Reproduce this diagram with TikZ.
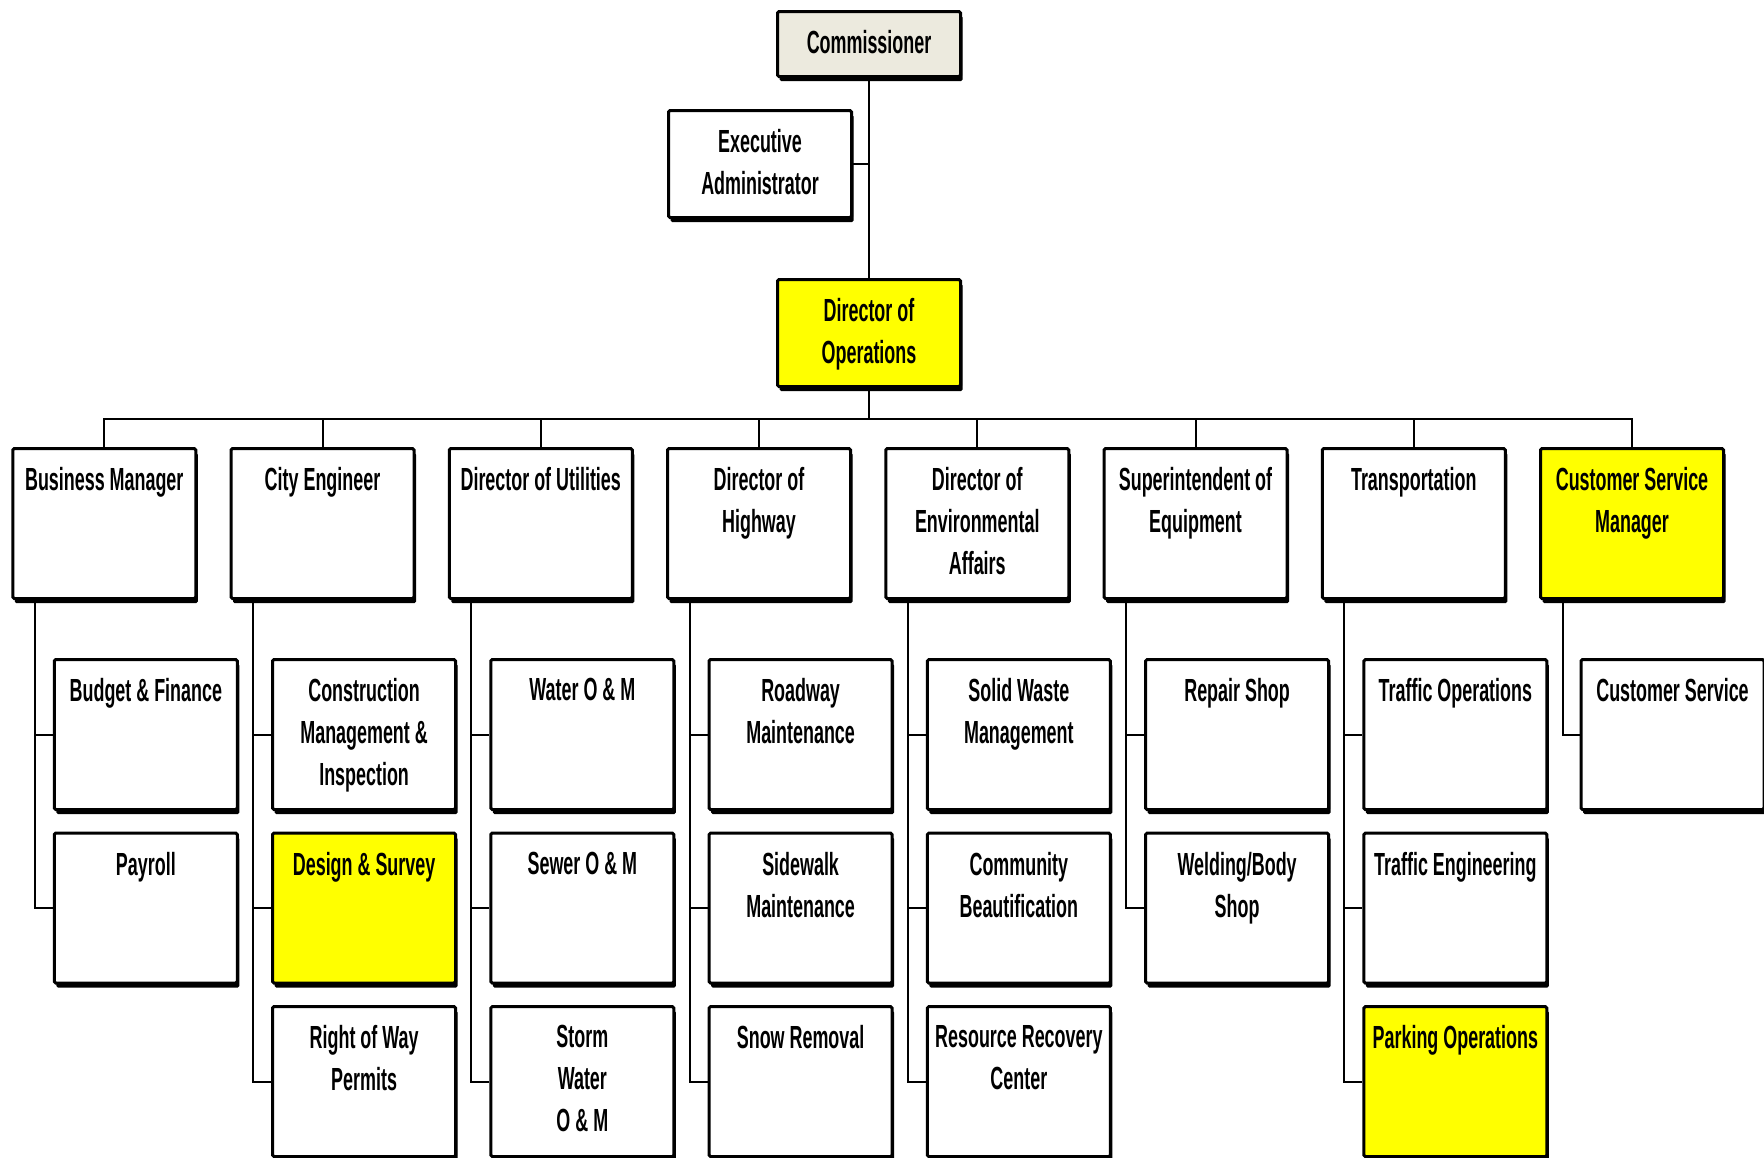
\documentclass[tikz,border=0pt]{standalone}
\usepackage{fontspec}
\setmainfont{Liberation Sans}[FakeStretch=0.56]
\usepackage{tikz}
\usetikzlibrary{shadows}
\definecolor{commfill}{RGB}{236,234,222}
\definecolor{hiyellow}{RGB}{255,255,0}
\newcommand{\card}[2]{\parbox[c][#1][t]{183pt}{\centering\vspace*{19pt}#2}}
\tikzset{
  orgbox/.style={draw, line width=3pt, fill=white, rounded corners=1.5pt, inner sep=0pt,
    font=\bfseries\fontsize{32}{42}\selectfont,
    drop shadow={shadow xshift=2pt, shadow yshift=-4.5pt, fill=black, opacity=1}},
  hilite/.style={orgbox, fill=hiyellow},
  link/.style={line width=2pt}
}

\begin{document}
\begin{tikzpicture}[x=1pt,y=-1pt]
			\useasboundingbox (0,0) rectangle (1764,1157);
			%%%%% TOP %%%%%
			\node[orgbox, fill=commfill] (comm) at (869, 44) {\card{65pt}{Commissioner}};
			\node[orgbox] (exec) at (760, 164) {\card{107pt}{Executive\\Administrator}};
			\node[hilite] (dirops) at (869, 333) {\card{107pt}{Director of\\Operations}};
			\coordinate (bus) at (869, 418.5);
			
			%%%%% DIVISIONS %%%%%
			\node[orgbox] (bizmgr) at (104.25, 523.5) {\card{150pt}{Business Manager}};
			\node[orgbox] (cityeng) at (322.5, 523.5) {\card{150pt}{City Engineer}};
			\node[orgbox] (utils) at (540.75, 523.5) {\card{150pt}{Director of Utilities}};
			\node[orgbox] (highway) at (759, 523.5) {\card{150pt}{Director of\\Highway}};
			\node[orgbox] (environ) at (977.25, 523.5) {\card{150pt}{Director of\\Environmental\\Affairs}};
			\node[orgbox] (equip) at (1195.5, 523.5) {\card{150pt}{Superintendent of\\Equipment}};
			\node[orgbox] (transp) at (1413.75, 523.5) {\card{150pt}{Transportation}};
			\node[hilite] (custmgr) at (1632, 523.5) {\card{150pt}{Customer Service\\Manager}};
			
			%%%%% UNITS %%%%%
			\node[orgbox] (budget) at (145.85, 734.5) {\card{150pt}{Budget \& Finance}};
			\node[orgbox] (payroll) at (145.85, 908) {\card{150pt}{Payroll}};
			
			\node[orgbox] (constr) at (364.1, 734.5) {\card{150pt}{Construction\\Management \&\\Inspection}};
			\node[hilite] (design) at (364.1, 908) {\card{150pt}{Design \& Survey}};
			\node[orgbox] (rightway) at (364.1, 1081.5) {\card{150pt}{Right of Way\\Permits}};
			
			\node[orgbox] (water) at (582.35, 734.5) {\card{150pt}{Water O \& M}};
			\node[orgbox] (sewer) at (582.35, 908) {\card{150pt}{Sewer O \& M}};
			\node[orgbox] (storm) at (582.35, 1081.5) {\card{150pt}{Storm\\Water\\O \& M}};
			
			\node[orgbox] (roadway) at (800.6, 734.5) {\card{150pt}{Roadway\\Maintenance}};
			\node[orgbox] (sidewalk) at (800.6, 908) {\card{150pt}{Sidewalk\\Maintenance}};
			\node[orgbox] (snow) at (800.6, 1081.5) {\card{150pt}{Snow Removal}};
			
			\node[orgbox] (solid) at (1018.85, 734.5) {\card{150pt}{Solid Waste\\Management}};
			\node[orgbox] (beautif) at (1018.85, 908) {\card{150pt}{Community\\Beautification}};
			\node[orgbox] (recovery) at (1018.85, 1081.5) {\card{150pt}{Resource Recovery\\Center}};
			
			\node[orgbox] (repair) at (1237.1, 734.5) {\card{150pt}{Repair Shop}};
			\node[orgbox] (welding) at (1237.1, 908) {\card{150pt}{Welding/Body\\Shop}};
			
			\node[orgbox] (trafops) at (1455.35, 734.5) {\card{150pt}{Traffic Operations}};
			\node[orgbox] (trafeng) at (1455.35, 908) {\card{150pt}{Traffic Engineering}};
			\node[hilite] (parking) at (1455.35, 1081.5) {\card{150pt}{Parking Operations}};
			
			\node[orgbox] (custsvc) at (1672.5, 734.5) {\card{150pt}{Customer Service}};
			
			%%%%% LINES %%%%%
			\draw[link] (comm.south) -- (dirops.north);
			\draw[link] (exec.east) -- (exec.east -| comm.south);
			\draw[link] (dirops.south) -- (bus);
			\draw[link] (bizmgr.north) |- (bus);
			\draw[link] (cityeng.north) |- (bus);
			\draw[link] (utils.north) |- (bus);
			\draw[link] (highway.north) |- (bus);
			\draw[link] (environ.north) |- (bus);
			\draw[link] (equip.north) |- (bus);
			\draw[link] (transp.north) |- (bus);
			\draw[link] (custmgr.north) |- (bus);
			
			\draw[link] ([xshift=23.5pt]bizmgr.south west) |- (budget.west);
			\draw[link] ([xshift=23.5pt]bizmgr.south west) |- (payroll.west);
			\draw[link] ([xshift=23.5pt]cityeng.south west) |- (constr.west);
			\draw[link] ([xshift=23.5pt]cityeng.south west) |- (design.west);
			\draw[link] ([xshift=23.5pt]cityeng.south west) |- (rightway.west);
			\draw[link] ([xshift=23.5pt]utils.south west) |- (water.west);
			\draw[link] ([xshift=23.5pt]utils.south west) |- (sewer.west);
			\draw[link] ([xshift=23.5pt]utils.south west) |- (storm.west);
			\draw[link] ([xshift=23.5pt]highway.south west) |- (roadway.west);
			\draw[link] ([xshift=23.5pt]highway.south west) |- (sidewalk.west);
			\draw[link] ([xshift=23.5pt]highway.south west) |- (snow.west);
			\draw[link] ([xshift=23.5pt]environ.south west) |- (solid.west);
			\draw[link] ([xshift=23.5pt]environ.south west) |- (beautif.west);
			\draw[link] ([xshift=23.5pt]environ.south west) |- (recovery.west);
			\draw[link] ([xshift=23.5pt]equip.south west) |- (repair.west);
			\draw[link] ([xshift=23.5pt]equip.south west) |- (welding.west);
			\draw[link] ([xshift=23.5pt]transp.south west) |- (trafops.west);
			\draw[link] ([xshift=23.5pt]transp.south west) |- (trafeng.west);
			\draw[link] ([xshift=23.5pt]transp.south west) |- (parking.west);
			\draw[link] ([xshift=23.5pt]custmgr.south west) |- (custsvc.west);
			%%%%% END %%%%%
\end{tikzpicture}
\end{document}
